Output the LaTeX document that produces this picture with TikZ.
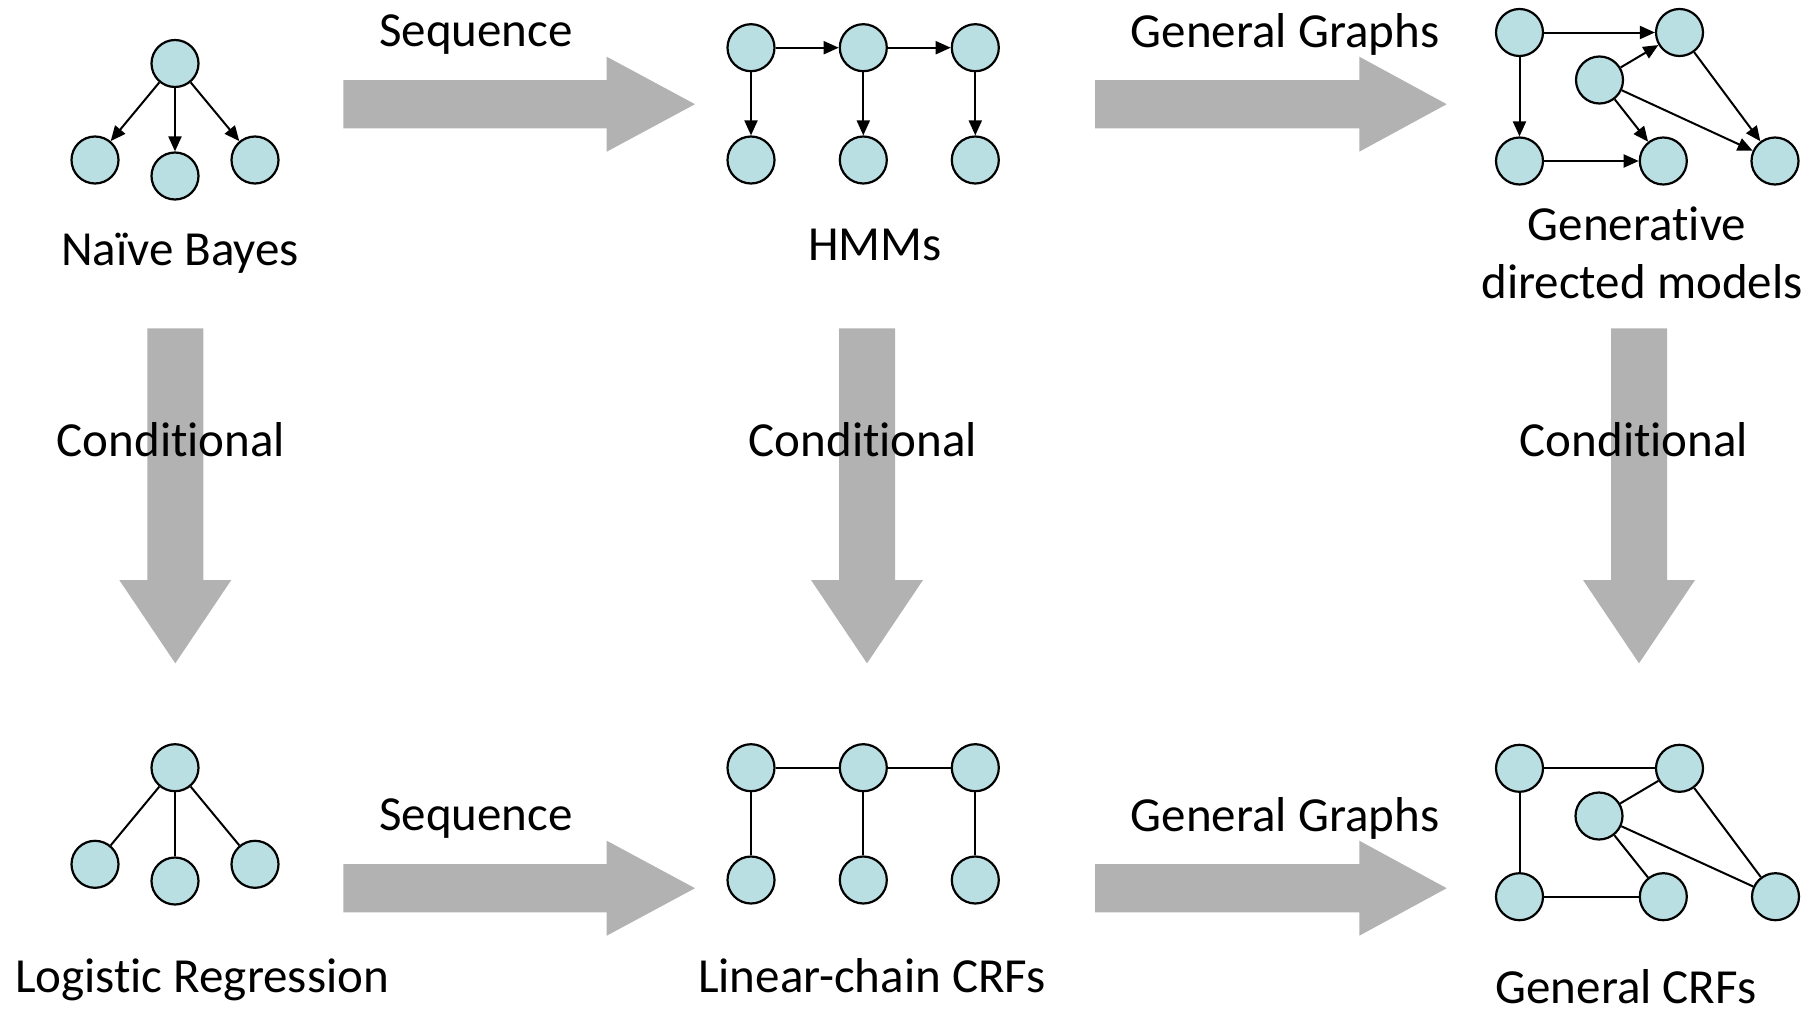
\documentclass[tikz,border=0pt]{standalone}
\usepackage{fontspec}
\setmainfont{Carlito}[Ligatures=NoCommon]
\usetikzlibrary{arrows.meta}
\definecolor{nodefill}{RGB}{185,223,226}
\definecolor{bigarrow}{RGB}{178,178,178}

\begin{document}
\begin{tikzpicture}[x=1pt,y=-1pt,
  var/.style={circle,draw=black,fill=nodefill,line width=2.2pt,minimum size=47pt,inner sep=0pt},
  dir/.style={line width=2pt,-{Triangle[length=15pt,width=13pt]}},
  undir/.style={line width=2pt},
  lbl/.style={anchor=base,inner sep=0pt,font=\fontsize{49}{57}\selectfont},
  fat/.style={fill=bigarrow}]

\useasboundingbox (0,0) rectangle (1820,1009);

% ---------- broad grey arrows ----------
% horizontal, top row
\fill[fat] (343.3,80) -- (606.7,80) -- (606.7,56.7) -- (695,104.2) -- (606.7,151.7) -- (606.7,128.3) -- (343.3,128.3) -- cycle;
\fill[fat] (1095,80) -- (1359.3,80) -- (1359.3,56.7) -- (1446.7,104.2) -- (1359.3,151.7) -- (1359.3,128.3) -- (1095,128.3) -- cycle;
% horizontal, bottom row
\fill[fat] (343.3,864) -- (606.7,864) -- (606.7,840.7) -- (695,888.2) -- (606.7,935.7) -- (606.7,912.3) -- (343.3,912.3) -- cycle;
\fill[fat] (1095,864) -- (1359.3,864) -- (1359.3,840.7) -- (1446.7,888.2) -- (1359.3,935.7) -- (1359.3,912.3) -- (1095,912.3) -- cycle;
% vertical
\foreach \cx in {175.3,867,1639}{
  \fill[fat] (\cx-28,328.3) -- (\cx+28,328.3) -- (\cx+28,580) -- (\cx+56,580) -- (\cx,663.3) -- (\cx-56,580) -- (\cx-28,580) -- cycle;
}

% ---------- arrow labels ----------
\node[lbl] (seqTop) at (476,46.7) {Sequence};
\node[lbl] (ggTop) at (1285,47.3) {General Graphs};
\node[lbl] (seqBot) at (476,830.7) {Sequence};
\node[lbl] (ggBot) at (1285,831) {General Graphs};
\node[lbl] (condL) at (171,456.7) {Conditional};
\node[lbl] (condM) at (863,456.7) {Conditional};
\node[lbl] (condR) at (1634,456.7) {Conditional};

% ---------- Naive Bayes ----------
\node[var] (nbR) at (175,63.5) {};
\node[var] (nb1) at (95,160) {};
\node[var] (nb2) at (175,176) {};
\node[var] (nb3) at (255,160) {};
\draw[dir] (nbR) -- (nb1);
\draw[dir] (nbR) -- (nb2);
\draw[dir] (nbR) -- (nb3);
\node[lbl] (nbText) at (180,265.5) {Naïve Bayes};

% ---------- HMMs ----------
\node[var] (h1) at (751,47.7) {};
\node[var] (h2) at (863.3,47.7) {};
\node[var] (h3) at (975.3,47.7) {};
\node[var] (o1) at (751,160) {};
\node[var] (o2) at (863.3,160) {};
\node[var] (o3) at (975.3,160) {};
\draw[dir] (h1) -- (h2);
\draw[dir] (h2) -- (h3);
\draw[dir] (h1) -- (o1);
\draw[dir] (h2) -- (o2);
\draw[dir] (h3) -- (o3);
\node[lbl] (hmmText) at (875,260) {HMMs};

% ---------- Generative directed models ----------
\node[var] (gA) at (1519.5,32.5) {};
\node[var] (gB) at (1679.5,32.5) {};
\node[var] (gC) at (1599.5,80) {};
\node[var] (gD) at (1519.5,161) {};
\node[var] (gE) at (1663.3,161) {};
\node[var] (gF) at (1775,161) {};
\draw[dir] (gA) -- (gB);
\draw[dir] (gA) -- (gD);
\draw[dir] (gD) -- (gE);
\draw[dir] (gC) -- (gB);
\draw[dir] (gC) -- (gE);
\draw[dir] (gC) -- (gF);
\draw[dir] (gB) -- (gF);
\node[lbl] (genText1) at (1637,240) {Generative};
\node[lbl] (genText2) at (1642,298) {directed models};

% ---------- Logistic Regression ----------
\node[var] (lrR) at (175,767.7) {};
\node[var] (lr1) at (95,864.3) {};
\node[var] (lr2) at (175,881) {};
\node[var] (lr3) at (255,864.3) {};
\draw[undir] (lrR) -- (lr1);
\draw[undir] (lrR) -- (lr2);
\draw[undir] (lrR) -- (lr3);
\node[lbl] (lrText) at (202,992) {Logistic Regression};

% ---------- Linear-chain CRFs ----------
\node[var] (c1) at (751,767.7) {};
\node[var] (c2) at (863.3,767.7) {};
\node[var] (c3) at (975.3,767.7) {};
\node[var] (x1) at (751,880) {};
\node[var] (x2) at (863.3,880) {};
\node[var] (x3) at (975.3,880) {};
\draw[undir] (c1) -- (c2);
\draw[undir] (c2) -- (c3);
\draw[undir] (c1) -- (x1);
\draw[undir] (c2) -- (x2);
\draw[undir] (c3) -- (x3);
\node[lbl] (lcText) at (872,992) {Linear-chain CRFs};

% ---------- General CRFs ----------
\node[var] (uA) at (1519.5,768.3) {};
\node[var] (uB) at (1679.5,768.3) {};
\node[var] (uC) at (1599,816) {};
\node[var] (uD) at (1519.5,896.7) {};
\node[var] (uE) at (1663.3,896.7) {};
\node[var] (uF) at (1775.5,896.7) {};
\draw[undir] (uA) -- (uB);
\draw[undir] (uA) -- (uD);
\draw[undir] (uD) -- (uE);
\draw[undir] (uC) -- (uB);
\draw[undir] (uC) -- (uE);
\draw[undir] (uC) -- (uF);
\draw[undir] (uB) -- (uF);
\node[lbl] (gcText) at (1626,1003) {General CRFs};

\end{tikzpicture}
\end{document}
